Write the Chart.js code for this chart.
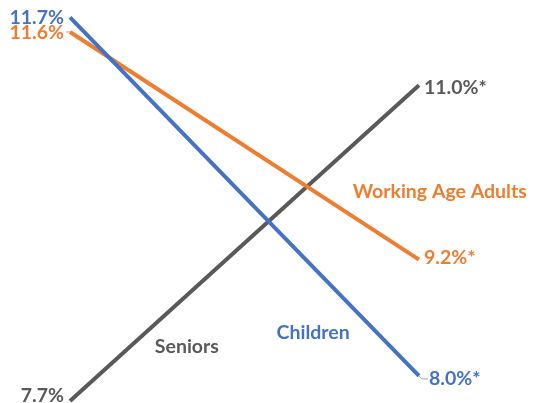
<!DOCTYPE html>
<html>
<head>
<meta charset="utf-8">
<script src="https://cdn.jsdelivr.net/npm/chart.js@4"></script>
<style>
  html, body { margin: 0; padding: 0; background: #fff; }
  #wrap { width: 537px; height: 403px; position: relative; }
</style>
</head>
<body>
<div id="wrap"><canvas id="chart"></canvas></div>
<script>
// Two time points, one line per group
const periods = ['Start', 'End'];
const childrenValues = [11.7, 8.0];
const adultsValues = [11.55, 9.2];
const seniorsValues = [7.74, 11.0];

const childrenLabels = ['11.7%', '8.0%*'];
const adultsLabels = ['11.6%', '9.2%*'];
const seniorsLabels = ['7.7%', '11.0%*'];

const seriesNames = ['Children', 'Working Age Adults', 'Seniors'];
const colors = ['#4472C4', '#ED7D31', '#595959'];

// Draws the end labels and series names
const labelPlugin = {
  id: 'endLabels',
  afterDatasetsDraw(chart) {
    const ctx = chart.ctx;
    const x = chart.scales.x;
    const y = chart.scales.y;
    ctx.save();
    ctx.font = 'bold 19.5px Lato';
    ctx.textBaseline = 'middle';

    const labelSets = [childrenLabels, adultsLabels, seniorsLabels];
    const valueSets = [childrenValues, adultsValues, seniorsValues];
    const startNudge = [0, 1, -5];
    const endNudge = [3, -2, 2];
    labelSets.forEach((labels, i) => {
      ctx.fillStyle = colors[i];
      ctx.textAlign = 'right';
      ctx.fillText(labels[0], x.getPixelForValue(0) - 6, y.getPixelForValue(valueSets[i][0]) + startNudge[i]);
      ctx.textAlign = 'left';
      ctx.fillText(labels[1], x.getPixelForValue(1) + (i === 0 ? 10 : 5), y.getPixelForValue(valueSets[i][1]) + endNudge[i]);
    });

    // small leader lines
    ctx.strokeStyle = '#A6A6A6';
    ctx.lineWidth = 1;
    ctx.beginPath();
    const ax = x.getPixelForValue(0), ay = y.getPixelForValue(adultsValues[0]);
    ctx.moveTo(ax - 4, ay); ctx.lineTo(ax, ay);
    const cx = x.getPixelForValue(1), cy = y.getPixelForValue(childrenValues[1]);
    ctx.moveTo(cx, cy); ctx.lineTo(cx + 3, cy + 3); ctx.lineTo(cx + 9, cy + 3);
    ctx.stroke();

    // series names
    ctx.textAlign = 'left';
    const namePos = [[0.592, 8.45], [0.81, 9.9], [0.243, 8.3]];
    seriesNames.forEach((name, i) => {
      ctx.fillStyle = colors[i];
      ctx.fillText(name, x.getPixelForDecimal(namePos[i][0]), y.getPixelForValue(namePos[i][1]));
    });
    ctx.restore();
  }
};

new Chart(document.getElementById('chart'), {
  type: 'line',
  data: {
    labels: periods,
    datasets: [
      { label: seriesNames[0], data: childrenValues, borderColor: colors[0] },
      { label: seriesNames[1], data: adultsValues, borderColor: colors[1] },
      { label: seriesNames[2], data: seniorsValues, borderColor: colors[2] }
    ]
  },
  options: {
    responsive: true,
    maintainAspectRatio: false,
    animation: false,
    layout: { padding: { left: 70, right: 118, top: 0, bottom: 0 } },
    elements: {
      line: { borderWidth: 4, tension: 0, borderCapStyle: 'butt' },
      point: { radius: 0 }
    },
    datasets: { line: { clip: false } },
    plugins: { legend: { display: false }, tooltip: { enabled: false } },
    scales: {
      x: { display: false, offset: false },
      y: { display: false, min: 7.72, max: 11.88 }
    }
  },
  plugins: [labelPlugin]
});
</script>
</body>
</html>
